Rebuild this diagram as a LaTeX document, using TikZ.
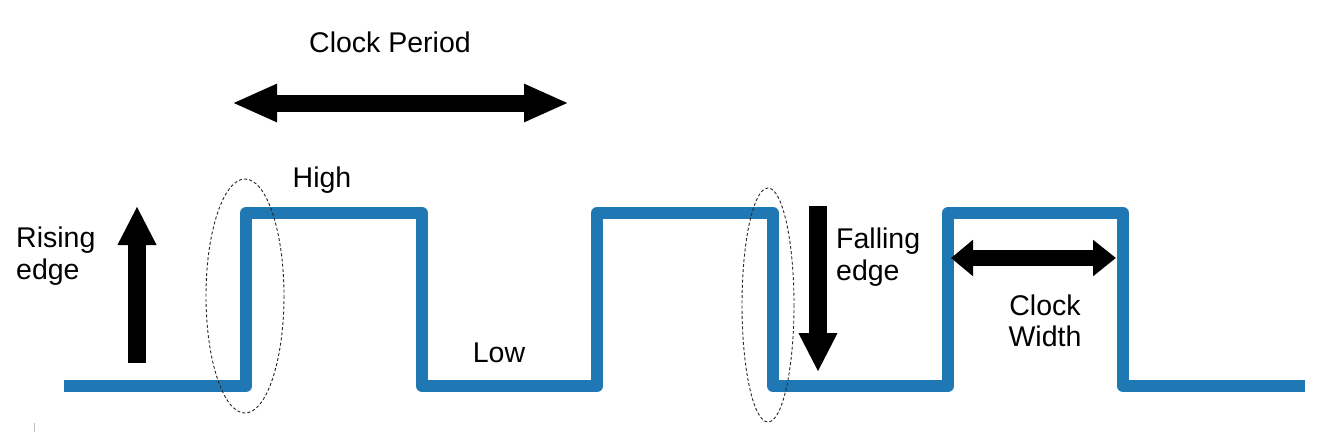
\documentclass[tikz,border=0pt]{standalone}
\usepackage{fontspec}
\setmainfont{Liberation Sans}
\usetikzlibrary{arrows.meta}
\definecolor{wave}{RGB}{31,119,180}
\begin{document}
\begin{tikzpicture}[x=1pt,y=-1pt,
  lbl/.style={inner sep=0pt,font=\fontsize{28.5}{31.5}\selectfont,text=black},
  wavepath/.style={draw=wave,line width=12pt,line join=round,line cap=butt},
  hilite/.style={draw=black!85,line width=0.9pt,dash pattern=on 3pt off 2.2pt},
  blockarrow/.style={draw=black,line width=18pt,-{Triangle[length=39pt,width=36pt]}},
  dblarrow/.style={draw=black,line width=17pt,{Triangle[length=45pt,width=35pt]}-{Triangle[length=45pt,width=35pt]}},
  dblarrowsmall/.style={draw=black,line width=16pt,{Triangle[length=22pt,width=35pt]}-{Triangle[length=23pt,width=35pt]}}]
\useasboundingbox (0,0) rectangle (1318,432);
\fill[white] (0,0) rectangle (1318,432);
% waveform
\draw[wavepath] (64,386) -- (246,386) -- (246,213) -- (422,213) -- (422,386)
  -- (597,386) -- (597,213) -- (773,213) -- (773,386) -- (948,386)
  -- (948,213) -- (1123,213) -- (1123,386) -- (1305,386);
% edge highlights
\draw[hilite] (245,296) ellipse [x radius=39, y radius=117];
\draw[hilite] (768,305) ellipse [x radius=26, y radius=117];
% arrows
\coordinate (riseS) at (137,363);
\coordinate (riseE) at (137,206);
\draw[blockarrow] (riseS) -- (riseE);
\coordinate (fallS) at (818,206);
\coordinate (fallE) at (818,372);
\draw[blockarrow] (fallS) -- (fallE);
\coordinate (perL) at (232,103);
\coordinate (perR) at (569,103);
\draw[dblarrow] (perL) -- (perR);
\coordinate (widL) at (951,258);
\coordinate (widR) at (1116,258);
\draw[dblarrowsmall] (widL) -- (widR);
% labels
\node[lbl] (period) at (390,42) {Clock Period};
\node[lbl] (high) at (322,180) {High};
\node[lbl] (low) at (499,353) {Low};
\node[lbl,align=left,anchor=west] (rising) at (16,256) {Rising\\edge};
\node[lbl,align=left,anchor=west] (falling) at (836,257) {Falling\\edge};
\node[lbl,align=center] (width) at (1045,321) {Clock\\Width};
% small artifact tick
\draw[black!25,line width=0.8pt] (34,423) -- (34,432);
\end{tikzpicture}
\end{document}
